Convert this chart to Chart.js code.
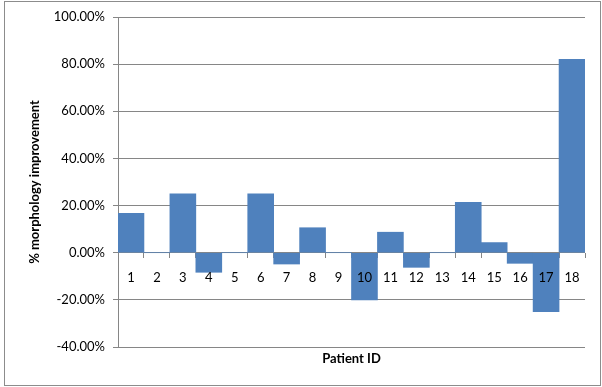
<!DOCTYPE html>
<html>
<head>
<meta charset="utf-8">
<script src="https://cdn.jsdelivr.net/npm/chart.js@4"></script>
<style>
  html, body { margin: 0; padding: 0; background: #fff; }
  canvas { display: block; }
</style>
</head>
<body>
<canvas id="chart" width="602" height="387"></canvas>
<script>
const patientIds = ["1", "2", "3", "4", "5", "6", "7", "8", "9", "10", "11", "12", "13", "14", "15", "16", "17", "18"];
const improvement = [16.7, 0, 25, -8.3, 0, 25, -4.8, 10.6, 0, -20, 8.7, -6.2, 0, 21.4, 4.3, -4.5, -25, 82];
const yTicks = [-40, -20, 0, 20, 40, 60, 80, 100];

const gridGray = "#868686";
const labelFont = { family: "Lato", size: 13 };
const titleFont = { family: "Lato", size: 13, weight: "bold" };

// outer frame around the whole chart
const framePlugin = {
  id: "frame",
  beforeDraw(chart) {
    const ctx = chart.ctx;
    ctx.save();
    ctx.fillStyle = "#fff";
    ctx.fillRect(0, 0, chart.width, chart.height);
    ctx.strokeStyle = "#8c8c8c";
    ctx.lineWidth = 1;
    ctx.strokeRect(4.5, 1.5, 596, 384);
    ctx.restore();
  },
};

new Chart(document.getElementById("chart").getContext("2d"), {
  type: "bar",
  data: {
    labels: patientIds,
    datasets: [
      {
        data: improvement,
        backgroundColor: "#4F81BD",
        borderWidth: 0,
        barPercentage: 1,
        categoryPercentage: 1,
      },
    ],
  },
  options: {
    responsive: false,
    animation: false,
    devicePixelRatio: 1,
    layout: { padding: { left: 4, right: 17, top: 17, bottom: 0 } },
    plugins: {
      legend: { display: false },
      tooltip: { enabled: false },
    },
    scales: {
      x: {
        position: "bottom",
        offset: true,
        ticks: { display: false },
        grid: { display: false },
        border: { display: false },
        title: {
          display: true,
          text: "Patient ID",
          font: titleFont,
          color: "#000",
          padding: { top: 0, bottom: 20 },
        },
        afterFit(scale) {
          scale.height = 40;
        },
      },
      // category labels sitting on the zero line, drawn over the bars
      xt: {
        type: "category",
        position: { y: 0 },
        offset: true,
        grid: {
          drawOnChartArea: false,
          offset: true,
          color: gridGray,
          tickLength: 5,
        },
        border: { display: false },
        ticks: {
          z: 1,
          font: labelFont,
          color: "#000",
          padding: 12,
          maxRotation: 0,
          autoSkip: false,
        },
      },
      y: {
        min: yTicks[0],
        max: yTicks[yTicks.length - 1],
        afterBuildTicks(scale) {
          scale.ticks = yTicks.map((v) => ({ value: v }));
        },
        grid: { color: gridGray, tickLength: 5 },
        border: { color: gridGray },
        ticks: {
          font: labelFont,
          color: "#000",
          padding: 8,
          callback: (v) => v.toFixed(2) + "%",
        },
        title: {
          display: true,
          text: "% morphology improvement",
          font: titleFont,
          color: "#000",
          padding: { top: 23, bottom: 0 },
        },
        afterFit(scale) {
          scale.width = 114;
        },
      },
    },
  },
  plugins: [framePlugin],
});
</script>
</body>
</html>
